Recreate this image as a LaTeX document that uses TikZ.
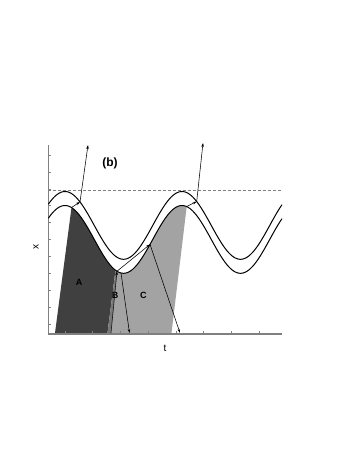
\documentclass[tikz,border=0pt]{standalone}
\usepackage{fontspec}
\setmainfont{Liberation Sans}
\usetikzlibrary{arrows.meta,positioning,calc}
\definecolor{regA}{gray}{0.25}
\definecolor{regB}{gray}{0.47}
\definecolor{regC}{gray}{0.64}
\definecolor{axisgray}{gray}{0.5}

\begin{document}
\begin{tikzpicture}[
    x=1pt, y=-1pt,
    declare function={up(\t)=225.4-33.9*cos(3.07692*(\t-65)); low(\t)=up(\t)+14;},
    curve/.style={line width=1pt, black},
    axisline/.style={draw=axisgray, line width=0.8pt},
    tickmark/.style={draw=axisgray, line width=0.6pt},
    ray/.style={-{Stealth[length=4pt,width=2.6pt]}, line width=0.55pt, black},
    lab/.style={font=\bfseries\fontsize{9}{9}\selectfont}
]
    \useasboundingbox (0,0) rectangle (354,458);

    % shaded regions
    \fill[regA] (55,333) -- plot[domain=71.5:115.5, samples=40] (\x,{low(\x)}) -- (107.5,333) -- cycle;
    \fill[regB] (107.5,333) -- plot[domain=115.5:117, samples=5] (\x,{low(\x)}) -- (111,333) -- cycle;
    \fill[regC] (111,333) -- plot[domain=117:186.7, samples=50] (\x,{low(\x)}) -- (171.5,333) -- cycle;

    % axes
    \draw[axisline] (48,145) -- (48,334);
    \draw[axisline, line width=1.4pt] (48,334) -- (282,334);
    \foreach \k in {0,...,10}
        \draw[tickmark] (48,{324-16.9*\k}) -- ++(2.5,0);
    \foreach \k in {0,...,7}
        \draw[tickmark] ({65+27.7*\k},334) -- ++(0,-3);
    \draw[draw=axisgray, line width=0.5pt, dash pattern=on 3pt off 2pt] (48,190) -- (282,190);

    % curves
    \draw[curve] plot[domain=48.3:282, samples=150, smooth] (\x,{up(\x)});
    \draw[curve] plot[domain=48.3:282, samples=150, smooth] (\x,{low(\x)});

    % rays
    \coordinate (a1) at (71.5,{low(71.5)});
    \coordinate (a2) at (80,{up(80)});
    \coordinate (a3) at (88,145);
    \coordinate (b1) at (186.7,{low(186.7)});
    \coordinate (b2) at (196.7,{up(196.7)});
    \coordinate (b3) at (203,143);
    \coordinate (m0) at (111,333);
    \coordinate (m1) at (117,{low(117)});
    \coordinate (m2) at (150,{low(150)});
    \coordinate (m3) at (180,333);
    \coordinate (m4) at (121,{low(121)});
    \coordinate (m5) at (129.5,333);

    \draw[ray] (a1) -- (a2);
    \draw[ray] (a2) -- (a3);
    \draw[ray] (b1) -- (b2);
    \draw[ray] (b2) -- (b3);
    \draw[ray] (m0) -- (m1);
    \draw[ray] (m1) -- (m2);
    \draw[ray] (m2) -- (m3);
    \draw[ray] (m4) -- (m5);

    % labels
    \node[lab] (lA) at (79,282) {A};
    \node[lab] (lB) at (115,295) {B};
    \node[lab] (lC) at (143.3,295.5) {C};
    \node[font=\bfseries\fontsize{12}{12}\selectfont] (lb) at (110,163) {(b)};
    \node[font=\fontsize{10}{10}\selectfont] (lt) at (165,348) {t};
    \node[font=\fontsize{10}{10}\selectfont, rotate=90] (lx) at (36,247) {x};
\end{tikzpicture}
\end{document}
